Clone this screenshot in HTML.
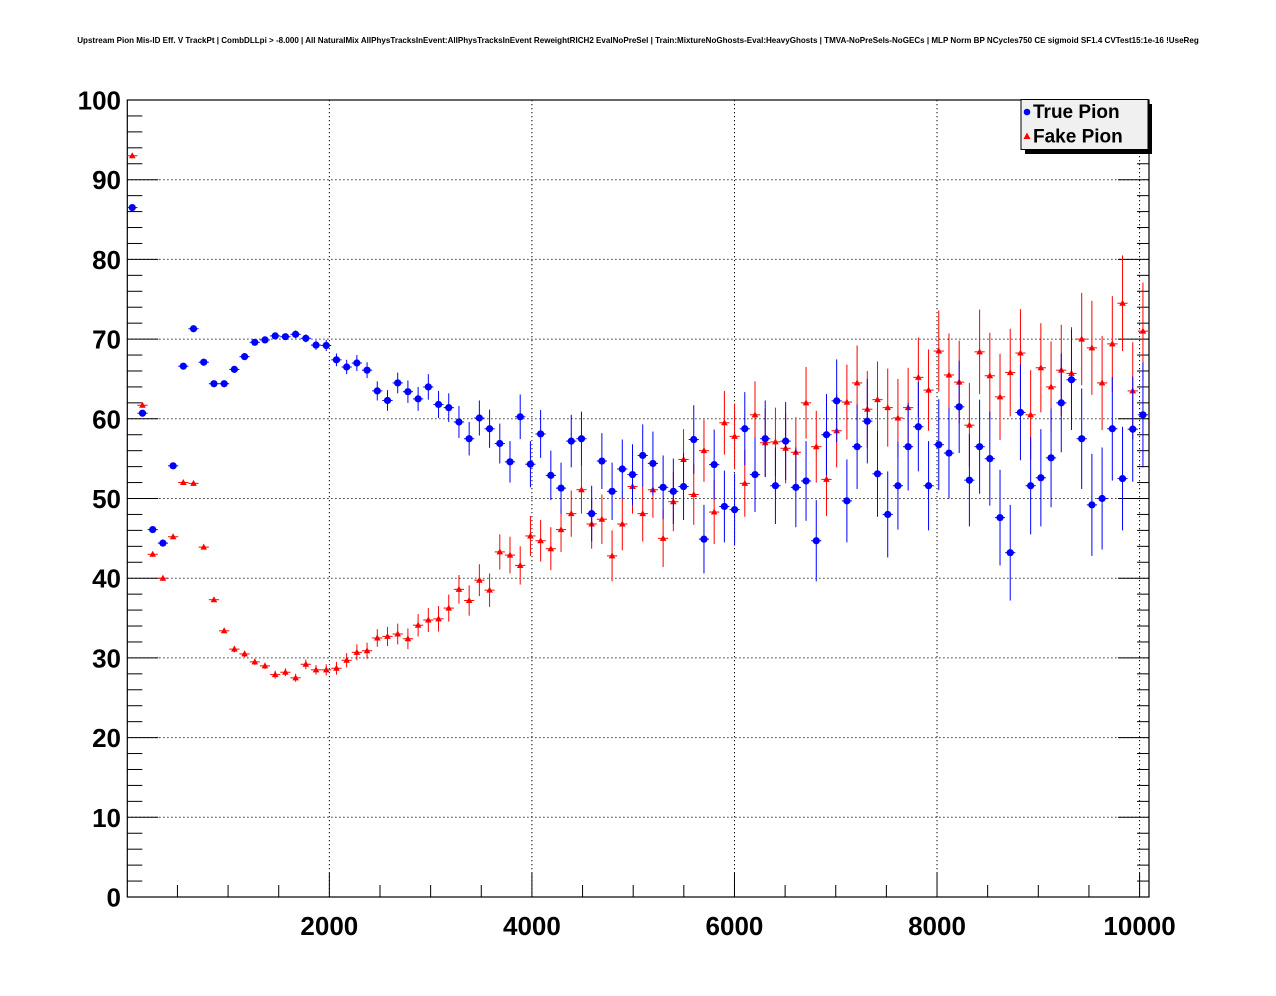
<!DOCTYPE html>
<html><head><meta charset="utf-8"><style>
html,body{margin:0;padding:0;background:#fff;}
svg{display:block;font-family:"Liberation Sans",Arial,sans-serif;}
</style></head><body>
<svg id="chart" width="1276" height="996" viewBox="0 0 1276 996">
<rect width="1276" height="996" fill="#fff"/>
<text x="638" y="43" text-anchor="middle" font-size="8.05" font-weight="bold">Upstream Pion Mis-ID Eff. V TrackPt | CombDLLpi &gt; -8.000 | All NaturalMix AllPhysTracksInEvent:AllPhysTracksInEvent ReweightRICH2 EvalNoPreSel | Train:MixtureNoGhosts-Eval:HeavyGhosts | TMVA-NoPreSels-NoGECs | MLP Norm BP NCycles750 CE sigmoid SF1.4 CVTest15:1e-16 !UseReg</text>
<g id="grid"></g>
<g id="axes"></g>
<g id="red"></g>
<g id="blue"></g>
<g>
<rect x="1025" y="104" width="127" height="50" fill="#000"/>
<rect x="1021" y="99.5" width="127" height="50" fill="#f0f0f0" stroke="#000" stroke-width="1"/>
<circle cx="1027" cy="112" r="3.3" fill="#0000ff"/>
<text x="1033" y="118" font-size="19" font-weight="bold">True Pion</text>
<polygon points="1027,132.5 1023.5,139 1030.5,139" fill="#ff0000"/>
<text x="1033" y="142.5" font-size="19" font-weight="bold">Fake Pion</text>
</g>
</svg>
<script>
const xTickLabels = [2000, 4000, 6000, 8000, 10000];
const yTickLabels = [0, 10, 20, 30, 40, 50, 60, 70, 80, 90, 100];
const binStart = 54, binWidth = 100.8;
const truePion = [86.5,60.7,46.1,44.4,54.1,66.6,71.3,67.1,64.4,64.4,66.2,67.8,69.6,69.9,70.4,70.3,70.6,70.1,69.25,69.2,
67.4,66.5,67.0,66.1,63.5,62.3,64.5,63.4,62.5,64.0,61.8,61.4,59.6,57.5,60.1,58.75,56.9,54.6,60.25,54.3,
58.1,52.9,51.3,57.2,57.5,48.1,54.7,50.9,53.7,53.0,55.4,54.4,51.4,50.9,51.5,57.4,44.9,54.25,49.0,48.6,
58.75,53.0,57.5,51.6,57.2,51.4,52.2,44.7,58.0,62.25,49.7,56.5,59.7,53.1,48.0,51.6,56.5,59.0,51.6,56.75,
55.7,61.5,52.3,56.5,55.0,47.6,43.2,60.8,51.6,52.6,55.1,62.0,64.9,57.5,49.2,50.0,58.75,52.5,58.7,60.5];
const trueErr = [0.3,0.3,0.3,0.3,0.3,0.3,0.3,0.3,0.3,0.3,0.3,0.3,0.4,0.4,0.4,0.4,0.5,0.5,0.6,0.7,
0.8,0.9,1.0,1.0,1.2,1.3,1.3,1.4,1.5,1.6,1.7,1.8,2.0,2.1,2.2,2.4,2.5,2.6,2.8,2.9,
3.0,3.1,3.2,3.3,3.4,3.5,3.5,3.6,3.7,3.8,3.9,4.0,4.0,4.1,4.2,4.3,4.3,4.4,4.5,4.5,
4.6,4.7,4.8,4.8,4.9,5.0,5.0,5.1,5.1,5.2,5.2,5.3,5.3,5.4,5.4,5.5,5.5,5.6,5.6,5.7,
5.7,5.8,5.8,5.9,5.9,6.0,6.0,6.0,6.1,6.1,6.2,6.2,6.3,6.3,6.4,6.4,6.5,6.5,6.6,6.6];
const fakePion = [93.0,61.7,43.0,40.0,45.2,52.0,51.9,43.9,37.3,33.4,31.1,30.5,29.5,29.0,27.9,28.2,27.5,29.2,28.5,28.5,
28.7,29.7,30.7,30.9,32.5,32.7,33.0,32.4,34.1,34.75,34.9,36.25,38.6,37.2,39.75,38.5,43.3,42.9,41.6,45.3,
44.7,43.7,46.1,48.1,51.1,46.8,47.4,42.8,46.8,51.5,48.1,51.1,45.0,49.6,54.9,50.5,56.0,48.3,59.5,57.8,
51.9,60.5,57.0,57.1,56.3,55.8,62.0,56.5,52.4,58.5,62.1,64.5,61.2,62.4,61.4,60.1,61.4,65.2,63.6,68.5,
65.5,64.6,59.2,68.4,65.4,62.75,65.8,68.25,60.5,66.4,64.0,66.1,65.7,70.0,68.9,64.5,69.4,74.5,63.5,71.0];
const fakeErr = [0.3,0.3,0.3,0.3,0.3,0.3,0.3,0.3,0.3,0.3,0.4,0.4,0.4,0.4,0.5,0.5,0.5,0.6,0.6,0.7,
0.8,0.9,1.0,1.0,1.1,1.2,1.3,1.3,1.4,1.5,1.6,1.7,1.8,1.9,2.0,2.1,2.2,2.3,2.4,2.5,
2.6,2.7,2.8,2.9,3.0,3.1,3.1,3.2,3.3,3.4,3.5,3.5,3.6,3.7,3.8,3.8,3.9,4.0,4.0,4.1,
4.2,4.2,4.3,4.3,4.4,4.4,4.5,4.5,4.6,4.6,4.7,4.7,4.8,4.8,4.9,4.9,5.0,5.0,5.1,5.1,
5.2,5.2,5.3,5.3,5.4,5.4,5.5,5.5,5.6,5.6,5.7,5.7,5.8,5.8,5.9,5.9,6.0,6.0,6.1,6.1];

const L = 126.8, R = 1149, T = 100, B = 897;
const XMIN = 0, XMAX = 10093, YMIN = 0, YMAX = 100;
const PL = 127.3;
const NS = "http://www.w3.org/2000/svg";
function sx(v){ return L + (v - XMIN) / (XMAX - XMIN) * (R - L); }
function sy(v){ return B - (v - YMIN) / (YMAX - YMIN) * (B - T); }
function mk(tag, attrs, parent){
  const e = document.createElementNS(NS, tag);
  for (const k in attrs) e.setAttribute(k, attrs[k]);
  parent.appendChild(e);
  return e;
}
const grid = document.getElementById('grid');
const axes = document.getElementById('axes');
xTickLabels.forEach(v => {
  const g = mk('line', {x1: sx(v), x2: sx(v), y1: T, y2: B, stroke: '#000', 'stroke-width': 1, 'stroke-dasharray': '1.2,2.8'}, grid);
  
  
});
yTickLabels.forEach(v => {
  if (v === 0 || v === 100) return;
  const g = mk('line', {x1: PL, x2: R, y1: sy(v), y2: sy(v), stroke: '#000', 'stroke-width': 1, 'stroke-dasharray': '1.2,2.8'}, grid);
  
  
});
const frame = mk('rect', {x: PL, y: T, width: R - PL, height: B - T, fill: 'none', stroke: '#000', 'stroke-width': 1.2}, axes);


for (let v = 500; v <= XMAX; v += 500) {
  const major = v % 2000 === 0;
  const t = mk('line', {x1: sx(v), x2: sx(v), y1: B, y2: B - (major ? 24 : 12), stroke: '#000', 'stroke-width': 1}, axes);
  
  
}
xTickLabels.forEach(v => {
  const t = mk('text', {x: sx(v), y: 935, 'text-anchor': 'middle', 'font-size': 26, 'font-weight': 'bold'}, axes);
  t.textContent = v;
  
  
});
for (let v = 0; v <= YMAX; v += 2) {
  const major = v % 10 === 0;
  const len = major ? 31 : 15;
  const t1 = mk('line', {x1: PL, x2: PL + len, y1: sy(v), y2: sy(v), stroke: '#000', 'stroke-width': 1}, axes);
  
  
  const t2 = mk('line', {x1: R, x2: R - (major ? 31 : 12), y1: sy(v), y2: sy(v), stroke: '#000', 'stroke-width': 1}, axes);
  
  
}
yTickLabels.forEach(v => {
  const t = mk('text', {x: 121, y: sy(v) + 9.5, 'text-anchor': 'end', 'font-size': 26, 'font-weight': 'bold'}, axes);
  t.textContent = v;
  
  
});
function drawSeries(gid, vals, errs, color, shape){
  const g = document.getElementById(gid);
  vals.forEach((v, i) => {
    const xc = binStart + i * binWidth;
    const px = sx(xc), py = sy(v);
    const hw = (sx(xc + binWidth/2) - sx(xc - binWidth/2)) / 2;
    const p = mk('g', {}, g);
    
    
    mk('line', {x1: px - hw, x2: px + hw, y1: py, y2: py, stroke: color, 'stroke-width': 1}, p);
    mk('line', {x1: px, x2: px, y1: sy(v + errs[i]), y2: sy(v - errs[i]), stroke: color, 'stroke-width': 1}, p);
    if (shape === 'circle') mk('circle', {cx: px, cy: py, r: 3.6, fill: color}, p);
    else mk('polygon', {points: `${px},${py-3.5} ${px-3.3},${py+2.5} ${px+3.3},${py+2.5}`, fill: color}, p);
  });
}
drawSeries('red', fakePion, fakeErr, '#ff0000', 'tri');
drawSeries('blue', truePion, trueErr, '#0000ff', 'circle');
</script>
</body></html>
